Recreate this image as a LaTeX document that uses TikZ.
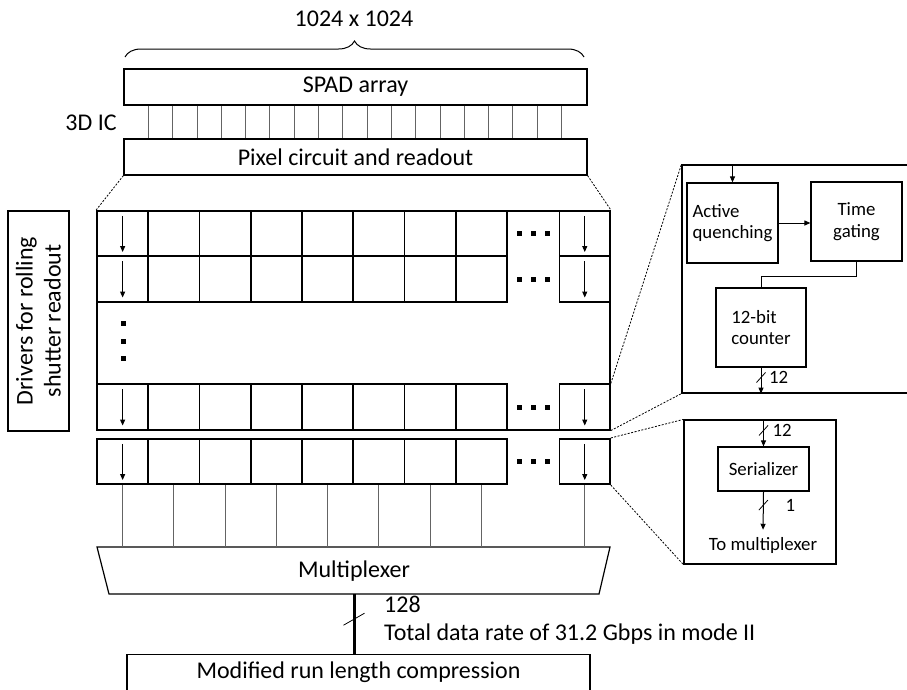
\documentclass[tikz,border=0pt]{standalone}
\usepackage{fontspec}
\setmainfont{Carlito}
\usetikzlibrary{positioning,arrows.meta,decorations.pathreplacing}
\definecolor{WireGray}{RGB}{100,100,100}
\newcommand{\lblbig}{\fontsize{24}{28}\selectfont}
\newcommand{\lblsmall}{\fontsize{18.8}{21.5}\selectfont}

\begin{document}
\begin{tikzpicture}[x=1pt,y=-1pt,
box/.style={rectangle,draw,line width=1.2pt,inner sep=0pt,font=\lblbig,align=center},
sbox/.style={rectangle,draw,line width=1.2pt,inner sep=0pt,font=\lblsmall},
cell/.style={rectangle,draw,line width=1.6pt,inner sep=0pt,minimum width=51.25pt,minimum height=45.5pt},
arrow/.style={-{Triangle[length=6pt,width=5pt]},line width=1pt},
wire/.style={draw=WireGray,line width=1pt},
zoomline/.style={dash pattern=on 2pt off 1.5pt,line width=0.8pt},
lbl/.style={font=\lblbig,inner sep=1pt},
slbl/.style={font=\lblsmall,inner sep=1pt}
]
\useasboundingbox (0,0) rectangle (907,689);
\clip (0,0) rectangle (907,689);

% 3D stack
\node[lbl] (dim) at (354,19) {1024 x 1024};
\draw[decorate,decoration={brace,amplitude=16pt},line width=1pt] (125,57) -- (584,57);
\node[box,minimum width=463pt,minimum height=36pt] (spad) at (355.5,87) {SPAD array};
\node[box,minimum width=463pt,minimum height=36pt] (pix) at (355.5,157) {Pixel circuit and readout};
\node[lbl] (ic) at (91,123) {3D IC};
\foreach \k in {0,...,17}
  \draw[wire] ([xshift={25pt+24.3pt*\k}]spad.south west) -- ([xshift={25pt+24.3pt*\k}]pix.north west);

% pixel rows
\draw[line width=1.6pt] (97,211) rectangle (610,430);
\foreach \r/\y in {1/233.5,2/279,3/407,4/461.5}{
  \foreach \c in {1,...,8}
    \node[cell] (c\r-\c) at ({97+51.25*(\c-0.5)},\y) {};
  \node[cell,minimum width=50.5pt] (c\r-9) at (584.75,\y) {};
  \draw[arrow] ([yshift=-6pt]c\r-1.north) -- ([yshift=5pt]c\r-1.south);
  \draw[arrow] ([yshift=-6pt]c\r-9.north) -- ([yshift=5pt]c\r-9.south);
  \foreach \d in {519,533,547}
    \fill (\d-2.5,\y-2.5) rectangle ++(5,5);
}
\foreach \v in {323,341,358}
  \fill (123-2.5,\v-2.5) rectangle ++(5,5);
\draw[zoomline] (pix.south west) -- (c1-1.north west);
\draw[zoomline] (pix.south east) -- (c1-9.north east);

\node[box,rotate=90,minimum width=220pt,minimum height=61pt] (drv) at (38.5,321) {Drivers for rolling\\shutter readout};

% pixel detail
\node[sbox,minimum width=268pt,minimum height=228pt] (pixdet) at (816,279) {};
\draw[zoomline] (c3-9.north east) -- (pixdet.north west);
\draw[zoomline] (c3-9.south east) -- (pixdet.south west);
\node[sbox,minimum width=91pt,minimum height=80pt,align=left] (aq) at (732.5,223) {Active\\quenching};
\node[sbox,minimum width=91pt,minimum height=79pt,align=center] (tg) at (856.5,221.5) {Time\\gating};
\node[sbox,minimum width=90pt,minimum height=79pt,align=left] (cnt) at (761,327.5) {12-bit\\counter};
\draw[arrow] (aq.north |- pixdet.north) -- (aq.north);
\draw[arrow] (aq.east) -- (aq.east -| tg.west);
\draw[line width=1pt] (tg.south) -- ++(0,15) -| (cnt.north);
\draw[arrow] (cnt.south) -- coordinate[pos=0.38] (s1) (cnt.south |- pixdet.south);
\draw[line width=0.8pt] ([shift={(-4.5,5)}]s1) -- ([shift={(4.5,-5)}]s1);
\node[slbl,anchor=west] at ([xshift=7pt]s1) {12};

% serializer detail
\node[sbox,minimum width=152pt,minimum height=144pt] (serdet) at (760,492) {};
\draw[zoomline] (c4-9.north east) -- (serdet.north west);
\draw[zoomline] (c4-9.south east) -- (serdet.south west);
\node[sbox,minimum width=91pt,minimum height=44pt] (ser) at (763.5,469) {Serializer};
\node[slbl,inner sep=3pt] (tomux) at (763,545) {To multiplexer};
\draw[arrow] (ser.north |- serdet.north) -- coordinate[pos=0.41] (s2) (ser.north);
\draw[line width=0.8pt] ([shift={(-4.5,5)}]s2) -- ([shift={(4.5,-5)}]s2);
\node[slbl,anchor=west] at ([xshift=8pt]s2) {12};
\draw[arrow,shorten >=4pt] (ser.south) -- coordinate[pos=0.32] (s3) (tomux.north);
\draw[line width=0.8pt] ([shift={(-4.5,5)}]s3) -- ([shift={(4.5,-5)}]s3);
\node[slbl,anchor=west] at ([xshift=21pt]s3) {1};

% multiplexer and output
\coordinate (muxtop) at (354,547);
\coordinate (muxbot) at (354,594);
\draw[line width=1.2pt] (97,547) -- (610,547) -- (599,594) -- (109,594) -- cycle;
\node[lbl] (mux) at (354,571) {Multiplexer};
\foreach \c in {1,...,9}
  \draw[wire] (c4-\c.south) -- (c4-\c.south |- muxtop);
\node[box,anchor=north,minimum width=463pt,text height=20pt,text depth=30pt,inner ysep=4pt] (mrlc) at (358.5,654) {Modified run length compression};
\draw[line width=3pt] (muxbot) -- coordinate[pos=0.42] (s4) (muxbot |- mrlc.north);
\draw[line width=0.8pt] ([shift={(-10.5,6)}]s4) -- ([shift={(10.5,-6)}]s4);
\node[lbl,anchor=west,align=left] (rate) at (383,620) {128\\Total data rate of 31.2 Gbps in mode II};
\end{tikzpicture}
\end{document}
